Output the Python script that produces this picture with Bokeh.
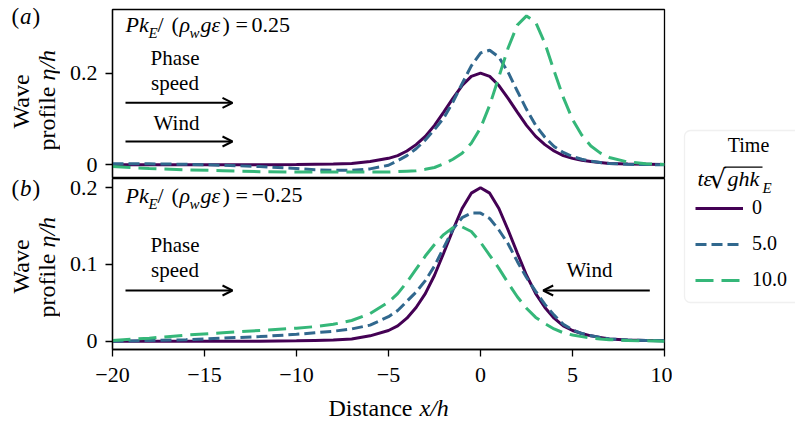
import math
from bokeh.plotting import figure
from bokeh.layouts import row, column
from bokeh.models import (Range1d, FixedTicker, Label, Arrow, OpenHead,
                          BoxAnnotation, Legend, LegendItem)
from bokeh.core.properties import value
from bokeh.embed import file_html
from bokeh.resources import INLINE

# ---------------- data ----------------
x_h = [-20, -18, -16, -14, -12, -10, -9, -8, -7, -6, -5, -4.5, -4, -3.5, -3,
       -2.5, -2, -1.5, -1, -0.5, 0, 0.5, 1, 1.5, 2, 2.5, 3, 3.5, 4, 4.5, 5,
       5.5, 6, 6.5, 7, 8, 9, 10]

# t = 0 (same initial solitary wave in both panels)
eta_t0 = [0.0, 0.0, 0.0, 0.0, 0.0, 0.0005, 0.001, 0.0015, 0.003, 0.007, 0.014,
          0.020, 0.030, 0.044, 0.062, 0.086, 0.115, 0.145, 0.173, 0.193, 0.200,
          0.193, 0.173, 0.145, 0.115, 0.086, 0.062, 0.044, 0.030, 0.020, 0.014,
          0.010, 0.007, 0.005, 0.003, 0.0015, 0.001, 0.0005]

# panel (a): P k_E/(rho_w g eps) = 0.25
eta_a_t5 = [0.002, 0.002, 0.001, -0.001, -0.004, -0.008, -0.011, -0.012, -0.012,
            -0.009, -0.001, 0.009, 0.020, 0.035, 0.054, 0.077, 0.102, 0.137,
            0.177, 0.216, 0.244, 0.250, 0.235, 0.202, 0.161, 0.121, 0.086,
            0.060, 0.040, 0.027, 0.018, 0.012, 0.008, 0.005, 0.003, 0.001,
            0.0005, 0.0]
eta_a_t10 = [-0.004, -0.008, -0.011, -0.013, -0.015, -0.016, -0.016, -0.016,
             -0.016, -0.016, -0.016, -0.015, -0.014, -0.013, -0.010, -0.006,
             0.002, 0.012, 0.025, 0.047, 0.080, 0.130, 0.192, 0.255, 0.305,
             0.325, 0.311, 0.265, 0.205, 0.147, 0.099, 0.065, 0.041, 0.026,
             0.016, 0.006, 0.0023, 0.0008]

# panel (b): P k_E/(rho_w g eps) = -0.25
eta_b_t5 = [0.000, 0.001, 0.002, 0.004, 0.006, 0.009, 0.011, 0.013, 0.016,
            0.021, 0.032, 0.040, 0.052, 0.064, 0.079, 0.098, 0.122, 0.146,
            0.161, 0.167, 0.167, 0.160, 0.145, 0.127, 0.104, 0.083, 0.065,
            0.048, 0.034, 0.022, 0.015, 0.010, 0.007, 0.005, 0.003, 0.0015,
            0.001, 0.0005]
eta_b_t10 = [0.001, 0.004, 0.008, 0.011, 0.014, 0.017, 0.019, 0.022, 0.027,
             0.036, 0.051, 0.062, 0.077, 0.094, 0.111, 0.126, 0.139, 0.148,
             0.149, 0.143, 0.129, 0.112, 0.095, 0.076, 0.058, 0.043, 0.031,
             0.023, 0.016, 0.011, 0.008, 0.006, 0.004, 0.003, 0.002, 0.001,
             0.0005, 0.0]

x_ticks = [-20, -15, -10, -5, 0, 5, 10]
x_tick_labels = ["\u221220", "\u221215", "\u221210", "\u22125", "0", "5", "10"]
ya_ticks = [0, 0.2]
ya_tick_labels = ["0", "0.2"]
yb_ticks = [0, 0.1, 0.2]
yb_tick_labels = ["0", "0.1", "0.2"]
time_labels = ["0", "5.0", "10.0"]

# ---------------- styles / geometry (page pixels) ----------------
FONT = "Liberation Serif"
PURPLE, BLUE, GREEN = "#440154", "#31688e", "#35b779"
LW = 3
DASH5 = "11 5"
DASH10 = "18 8"

PAGE_H = 420
LEFT_W = 60                 # column with panel letters and y titles
FL, FR = 112, 664           # frame left/right
A_T, A_B = 9, 178           # panel a frame top/bottom
B_T, B_B = 178, 349         # panel b frame top/bottom
B_BOTTOM = 46               # tick-label strip under panel b
XR = (-20, 10)
YA = (-0.030, 0.339)
YB = (-0.0108, 0.2121)
PANEL_W = 672 - LEFT_W
LEG_W = 795 - 672
MID = 0.3375                # em-box middle above the baseline


def dx(px):
    return XR[0] + (px - FL) * (XR[1] - XR[0]) / (FR - FL)


def dya(py):
    return YA[1] - (py - A_T) * (YA[1] - YA[0]) / (A_B - A_T)


def dyb(py):
    return YB[1] - (py - B_T) * (YB[1] - YB[0]) / (B_B - B_T)


def ident(v):
    return v


def lab(p, px, py, fx, fy, text, size, style="normal", align="left",
        angle=0.0, font=FONT, on_baseline=True):
    """py is the baseline (page px) for horizontal text; the em-box middle
    for rotated text."""
    yy = py - MID * size if on_baseline else py
    p.add_layout(Label(x=fx(px), y=fy(yy), text=text, text_font=font,
                       text_font_size=f"{size}px", text_font_style=style,
                       text_align=align, text_baseline="middle", angle=angle,
                       text_color="black"))


def arrow(p, px0, px1, py, fy):
    p.add_layout(Arrow(x_start=dx(px0), y_start=fy(py), x_end=dx(px1), y_end=fy(py),
                       line_width=2, line_color="black",
                       end=OpenHead(size=10, line_width=2, line_color="black")))


def blank(width, height, xr, yr, left=0, right=0):
    p = figure(width=width, height=height, x_range=Range1d(*xr), y_range=Range1d(*yr),
               x_axis_location=None, y_axis_location=None, toolbar_location=None,
               output_backend="svg", min_border=0, outline_line_color=None)
    p.min_border_left = left
    p.min_border_right = right
    p.grid.grid_line_color = None
    p.background_fill_color = "white"
    p.border_fill_color = "white"
    return p


def make_panel(height, yr, top_b, bot_b, show_x, yticks, ylabels):
    p = figure(width=PANEL_W, height=height, x_range=Range1d(*XR), y_range=Range1d(*yr),
               output_backend="svg", toolbar_location=None,
               x_axis_location="below" if show_x else None,
               min_border_left=FL - LEFT_W, min_border_right=672 - FR,
               min_border_top=top_b, min_border_bottom=bot_b)
    p.grid.grid_line_color = None
    p.outline_line_color = "black"
    p.outline_line_width = 1.3
    p.background_fill_color = "white"
    p.border_fill_color = "white"
    p.yaxis.ticker = FixedTicker(ticks=yticks)
    p.yaxis.major_label_overrides = dict(zip(yticks, ylabels))
    if show_x:
        p.xaxis.ticker = FixedTicker(ticks=x_ticks)
        p.xaxis.major_label_overrides = dict(zip(x_ticks, x_tick_labels))
    for ax in p.axis:
        ax.axis_line_color = "black"
        ax.axis_line_width = 1.3
        ax.major_tick_line_color = "black"
        ax.major_tick_line_width = 1.3
        ax.major_tick_out = 7
        ax.major_tick_in = 0
        ax.minor_tick_line_color = None
        ax.major_label_text_font = FONT
        ax.major_label_text_font_size = "22px"
        ax.major_label_text_color = "black"
        ax.major_label_standoff = 8
    if show_x:
        p.xaxis.major_label_standoff = 11
    return p


# ---------------- panel (a) ----------------
pa = make_panel(A_B, YA, A_T, 0, False, ya_ticks, ya_tick_labels)
pa.line(x_h, eta_t0, line_color=PURPLE, line_width=LW)
pa.line(x_h, eta_a_t5, line_color=BLUE, line_width=LW, line_dash=DASH5)
pa.line(x_h, eta_a_t10, line_color=GREEN, line_width=LW, line_dash=DASH10)

# ---------------- panel (b) ----------------
pb = make_panel(B_B - B_T + B_BOTTOM, YB, 0, B_BOTTOM, True, yb_ticks, yb_tick_labels)
pb.line(x_h, eta_t0, line_color=PURPLE, line_width=LW)
pb.line(x_h, eta_b_t5, line_color=BLUE, line_width=LW, line_dash=DASH5)
pb.line(x_h, eta_b_t10, line_color=GREEN, line_width=LW, line_dash=DASH10)

# parameter annotations
for p, fy, base, val in ((pa, dya, 31.5, "0.25"), (pb, dyb, 202, "\u22120.25")):
    lab(p, 125, base, dx, fy, "Pk", 22, "italic")
    lab(p, 148, base + 6.5, dx, fy, "E", 15, "italic")
    lab(p, 157, base, dx, fy, "/", 22)
    lab(p, 171, base, dx, fy, "(", 22)
    lab(p, 179, base, dx, fy, "\u03c1", 22, "italic")
    lab(p, 189, base + 6.5, dx, fy, "w", 15, "italic")
    lab(p, 200, base, dx, fy, "g\u03b5", 22, "italic")
    lab(p, 222, base, dx, fy, ")", 22)
    lab(p, 235, base, dx, fy, "=", 22)
    lab(p, 251, base, dx, fy, val, 22)

# arrows and their texts
lab(pa, 174.5, 65, dx, dya, "Phase", 21, align="center")
lab(pa, 174.5, 90, dx, dya, "speed", 21, align="center")
arrow(pa, 125, 232, 102.3, dya)
lab(pa, 176, 129.3, dx, dya, "Wind", 21, align="center")
arrow(pa, 125, 232, 141, dya)

lab(pb, 174.5, 251.7, dx, dyb, "Phase", 21, align="center")
lab(pb, 174.5, 276.7, dx, dyb, "speed", 21, align="center")
arrow(pb, 125, 232, 290, dyb)
lab(pb, 589, 276.7, dx, dyb, "Wind", 21, align="center")
arrow(pb, 649.3, 542.7, 290, dyb)

# ---------------- x title strip (frame aligned with the panels) ----------------
xl_top = A_B + (B_B - B_T + B_BOTTOM)
xl = blank(PANEL_W, PAGE_H - xl_top, (FL, FR), (PAGE_H, xl_top),
           left=FL - LEFT_W, right=672 - FR)
lab(xl, 328, 416, ident, ident, "Distance", 24)
lab(xl, 419, 416, ident, ident, "x/h", 24, "italic")

# ---------------- left strip: panel letters and y titles ----------------
lf = blank(LEFT_W, PAGE_H, (0, LEFT_W), (PAGE_H, 0))
for base, letter in ((24.2, "a"), (196, "b")):
    lab(lf, 11, base, ident, ident, "(", 23)
    lab(lf, 19.5, base, ident, ident, letter, 23, "italic")
    lab(lf, 32, base, ident, ident, ")", 23)
W_PROFILE = 70
for w_start, start in ((128, 150), (293, 317)):
    lab(lf, 20, w_start, ident, ident, "Wave", 24, angle=math.pi / 2, on_baseline=False)
    lab(lf, 46, start, ident, ident, "profile ", 24, angle=math.pi / 2, on_baseline=False)
    lab(lf, 46, start - W_PROFILE, ident, ident, "\u03b7/h", 24, "italic",
        angle=math.pi / 2, on_baseline=False)

# ---------------- legend strip ----------------
pl = blank(LEG_W, PAGE_H, (672, 672 + LEG_W), (PAGE_H, 0))
pl.add_layout(BoxAnnotation(left=684, right=810, top=130, bottom=302,
                            fill_color="white", fill_alpha=1.0,
                            line_color="#cccccc", line_width=1.3, border_radius=6))

# renderers for the legend swatches (their data lie outside this strip's view)
r0 = pl.line(x_h, eta_t0, line_color=PURPLE, line_width=LW)
r5 = pl.line(x_h, eta_a_t5, line_color=BLUE, line_width=LW, line_dash=DASH5)
r10 = pl.line(x_h, eta_a_t10, line_color=GREEN, line_width=LW, line_dash=DASH10)
legend = Legend(items=[LegendItem(label=value(t), renderers=[r])
                       for t, r in zip(time_labels, (r0, r5, r10))],
                location=(695 - 672, PAGE_H - 291), orientation="vertical",
                glyph_width=48, glyph_height=22, label_height=22,
                label_standoff=9, spacing=13, padding=0, margin=0,
                border_line_color=None, background_fill_alpha=0.0,
                label_text_font=FONT, label_text_font_size="20px",
                label_text_color="black")
pl.add_layout(legend)

lab(pl, 748, 151.7, ident, ident, "Time", 20, align="center")
lab(pl, 697, 185, ident, ident, "t\u03b5", 22, "italic")
lab(pl, 709, 187, ident, ident, "\u221a", 26, font="DejaVu Serif")
pl.add_layout(BoxAnnotation(left=724, right=762, top=166, bottom=167.3,
                            fill_color="black", fill_alpha=1.0, line_color=None))
lab(pl, 727, 185, ident, ident, "ghk", 22, "italic")
lab(pl, 762, 192.5, ident, ident, "E", 15, "italic")

layout = row(lf, column(pa, pb, xl), pl)
open("out.html", "w").write(file_html(layout, INLINE))
